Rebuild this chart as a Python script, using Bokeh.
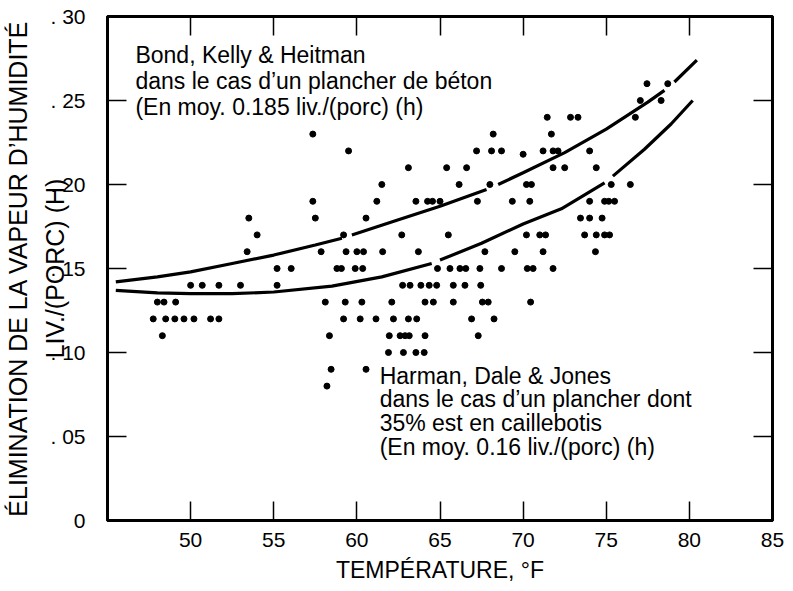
import math
from bokeh.plotting import figure
from bokeh.models import Range1d, FixedTicker, LinearAxis, Label
from bokeh.embed import file_html
from bokeh.resources import INLINE

nan = float("nan")

# ---- observations: removal level (row) -> temperatures (deg F) ----
obs_levels = [0.26, 0.25, 0.24, 0.23, 0.22, 0.218, 0.21, 0.20, 0.19, 0.18,
              0.17, 0.16, 0.15, 0.14, 0.13, 0.12, 0.11, 0.10, 0.09, 0.08]
obs_temps = [
    [77.45, 78.7],
    [77.05, 78.3],
    [71.45, 72.85, 73.3, 76.75],
    [57.35, 68.2, 71.7],
    [59.5, 67.2, 68.1, 68.7, 71.2, 71.8, 72.1, 74.0],
    [70.0],
    [63.1, 65.4, 66.6, 71.8, 72.5, 74.4],
    [61.5, 66.15, 68.0, 70.2, 70.5, 75.3, 76.45],
    [57.35, 61.2, 63.55, 64.25, 64.55, 65.0, 67.25, 69.35, 70.4, 74.0, 74.9, 75.15, 75.5],
    [53.5, 57.5, 60.55, 73.45, 74.0, 74.75],
    [54.0, 59.2, 62.7, 65.5, 70.2, 71.0, 71.35, 73.7, 74.4, 74.9, 75.2],
    [53.4, 57.85, 59.35, 60.0, 60.4, 61.55, 63.7, 67.7, 69.5, 71.2, 74.35],
    [55.2, 56.05, 58.8, 59.07, 59.9, 60.35, 64.85, 65.6, 66.2, 66.55, 67.4, 68.7, 70.25, 70.6, 71.8],
    [50.0, 50.7, 51.7, 53.0, 55.2, 62.75, 63.2, 63.85, 64.35, 64.8, 65.8, 66.5, 67.45],
    [48.0, 48.4, 49.1, 58.1, 59.3, 60.3, 62.1, 64.1, 64.6, 65.8, 67.55, 67.9, 70.45],
    [47.75, 48.5, 49.05, 49.6, 50.2, 51.2, 51.7, 59.2, 60.2, 61.15, 62.2, 63.1, 63.6, 66.9, 68.25],
    [48.3, 58.35, 61.95, 62.6, 62.9, 63.15, 64.1, 67.3],
    [61.9, 62.8, 63.55, 64.05],
    [58.45, 60.55],
    [58.2],
]

# ---- fitted curves (NaN = small break in the drawn line) ----
bond_temp = [45.5, 48, 50, 52.5, 55, 57.5, 59.1, nan, 59.7, 62.5, 65, 67.8, nan,
             68.5, 70, 72.5, 75, 77.5, 78.5, nan, 79.1, 80.45]
bond_removal = [0.142, 0.145, 0.148, 0.153, 0.158, 0.164, 0.168, nan, 0.170, 0.179, 0.187, 0.197, nan,
                0.200, 0.207, 0.219, 0.233, 0.249, 0.256, nan, 0.261, 0.274]
harman_temp = [45.5, 48, 50, 52.5, 55, 58.5, 61.5, 64.5, nan, 65.0, 67.5, 70, 72.3, 74.9, nan,
               75.4, 77.3, 78.9, 80.2]
harman_removal = [0.137, 0.1355, 0.135, 0.135, 0.136, 0.1395, 0.145, 0.153, nan, 0.155, 0.165, 0.1765,
                  0.1855, 0.201, nan, 0.205, 0.221, 0.236, 0.250]

x_ticks = [50, 55, 60, 65, 70, 75, 80, 85]
y_ticks = [0, 0.05, 0.10, 0.15, 0.20, 0.25, 0.30]
y_tick_labels = ["0", ". 05", ". 10", ". 15", ". 20", ". 25", ". 30"]

xs, ys = [], []
for lvl, temps in zip(obs_levels, obs_temps):
    for t in temps:
        xs.append(t)
        ys.append(lvl)

SANS = "Liberation Sans"

p = figure(width=793, height=591, x_range=Range1d(45, 85), y_range=Range1d(0, 0.30),
           output_backend="svg", toolbar_location=None,
           min_border_left=105, min_border_right=21, min_border_top=16, min_border_bottom=71)
p.xgrid.visible = False
p.ygrid.visible = False
p.outline_line_color = "black"
p.outline_line_width = 3
p.background_fill_color = "white"
p.border_fill_color = "white"

for ax in (p.xaxis[0], p.yaxis[0]):
    ax.axis_line_width = 3
    ax.axis_line_color = "black"
    ax.major_tick_in = 19
    ax.major_tick_out = 0
    ax.major_tick_line_width = 1.5
    ax.minor_tick_line_color = None
    ax.major_label_text_font = SANS
    ax.major_label_text_font_size = "21px"
    ax.major_label_text_color = "black"

xa = p.xaxis[0]
xa.ticker = FixedTicker(ticks=x_ticks)
xa.major_label_standoff = 12
xa.axis_label = "TEMPÉRATURE, °F"
xa.axis_label_text_font = SANS
xa.axis_label_text_font_size = "23px"
xa.axis_label_text_font_style = "normal"
xa.axis_label_text_color = "black"
xa.axis_label_standoff = 7

ya = p.yaxis[0]
ya.ticker = FixedTicker(ticks=y_ticks)
ya.major_label_overrides = {t: s for t, s in zip(y_ticks, y_tick_labels)}
ya.major_label_standoff = 22
ya.axis_label = "ÉLIMINATION DE LA VAPEUR D\u2019HUMIDITÉ\nLIV./(PORC) (H)"
ya.axis_label_text_font = SANS
ya.axis_label_text_font_size = "25px"
ya.axis_label_text_font_style = "normal"
ya.axis_label_text_color = "black"
ya.axis_label_text_line_height = 1.35
ya.axis_label_standoff = -22

top = LinearAxis(ticker=FixedTicker(ticks=x_ticks[:-1]), major_tick_in=19, major_tick_out=0,
                 major_label_overrides={t: "" for t in x_ticks[:-1]},
                 axis_line_width=3, major_tick_line_width=1.5,
                 minor_tick_line_color=None, major_label_standoff=0)
right = LinearAxis(ticker=FixedTicker(ticks=y_ticks[1:-1]), major_tick_in=19, major_tick_out=0,
                   major_label_overrides={t: "" for t in y_ticks[1:-1]},
                   axis_line_width=3, major_tick_line_width=1.5,
                   minor_tick_line_color=None, major_label_standoff=0)
p.add_layout(top, "above")
p.add_layout(right, "right")

p.line(bond_temp, bond_removal, line_width=3.2, line_color="black")
p.line(harman_temp, harman_removal, line_width=3.2, line_color="black")
p.scatter(xs, ys, size=6, fill_color="black", line_color="black")

p.add_layout(Label(x=46.68, y=0.2851,
                   text="Bond, Kelly & Heitman\ndans le cas d\u2019un plancher de béton\n(En moy. 0.185 liv./(porc) (h)",
                   text_font=SANS, text_font_size="23px", text_baseline="top", text_line_height=1.0,
                   text_color="black"))
p.add_layout(Label(x=61.37, y=0.0940,
                   text="Harman, Dale & Jones\ndans le cas d\u2019un plancher dont\n35% est en caillebotis\n(En moy. 0.16 liv./(porc) (h)",
                   text_font=SANS, text_font_size="23px", text_baseline="top", text_line_height=0.92,
                   text_color="black"))

open("out.html", "w").write(file_html(p, INLINE))
